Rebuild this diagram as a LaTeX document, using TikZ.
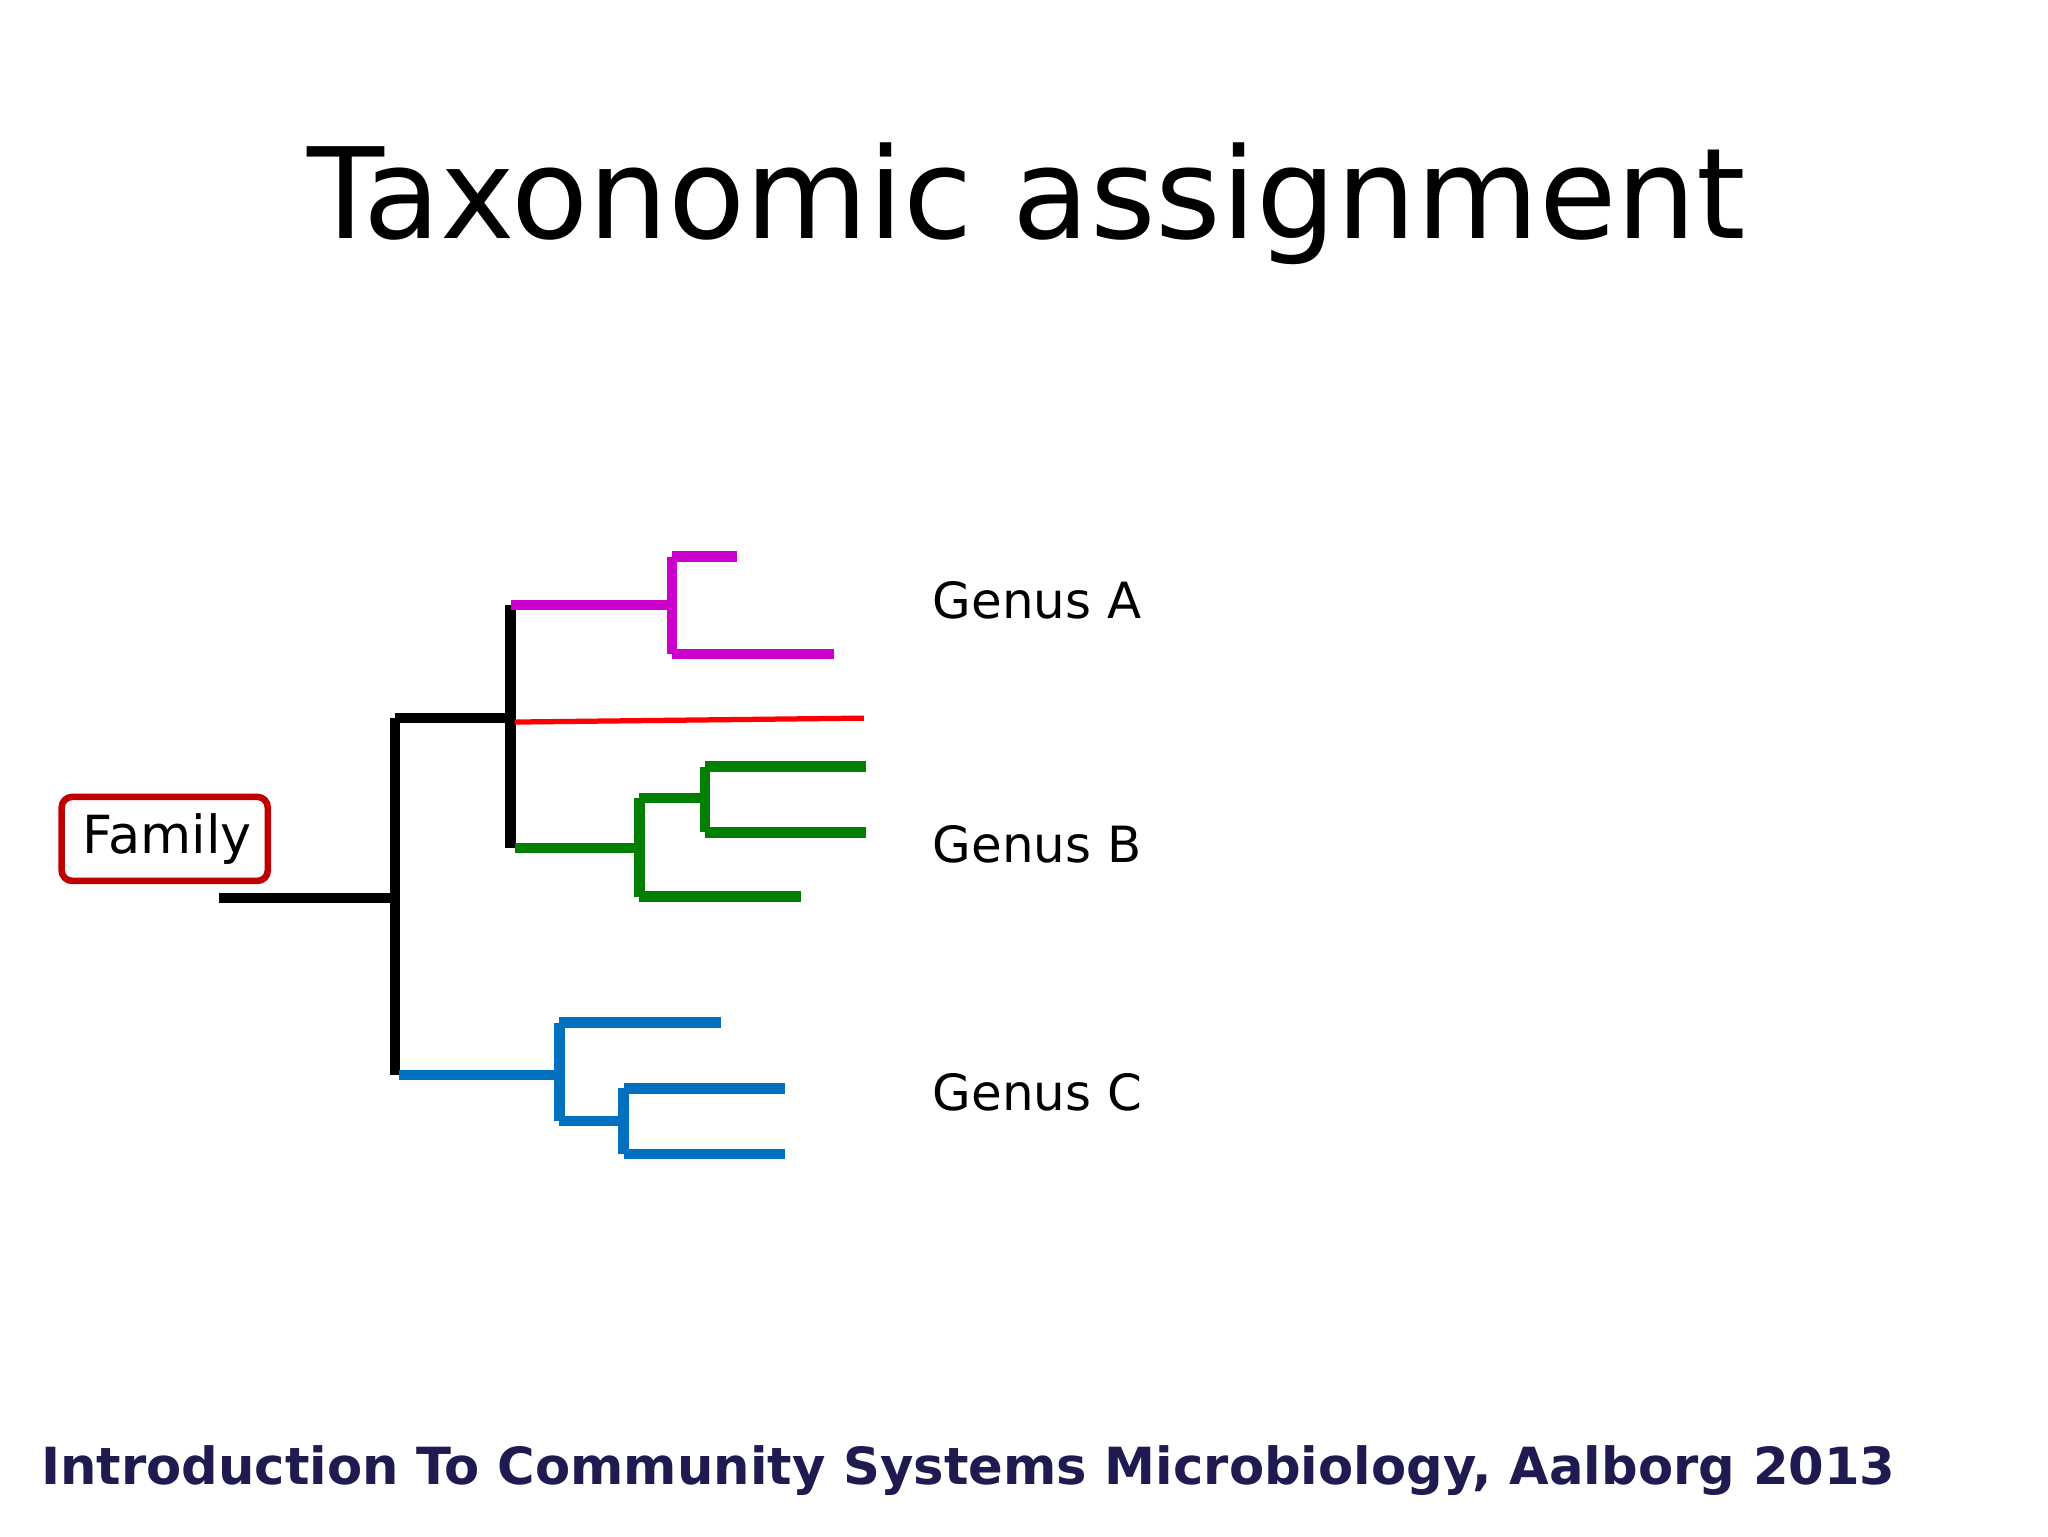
\documentclass[tikz,border=0pt]{standalone}
\usepackage{fontspec}
\setmainfont{DejaVu Sans}
\definecolor{mag}{HTML}{CC00CC}
\definecolor{grn}{HTML}{007F00}
\definecolor{blu}{HTML}{0070C0}
\definecolor{boxred}{HTML}{C00000}
\definecolor{navy}{HTML}{1F1A4F}
\begin{document}
\begin{tikzpicture}[x=1pt,y=-1pt,
  br/.style={line width=8pt},
  lbl/.style={anchor=west,font=\fontsize{38}{44}\selectfont}]
\useasboundingbox (0,3) rectangle (1560,1173);
\node at (782,158) {\fontsize{96}{110}\selectfont Taxonomic assignment};
\node[anchor=west,text=navy] at (28,1123) {\fontsize{39}{46}\selectfont\bfseries Introduction To Community Systems Microbiology, Aalborg 2013};
\node[draw=boxred,line width=5pt,rounded corners=8pt,minimum width=157pt,minimum height=64pt,font=\fontsize{40}{46}\selectfont] (fam) at (125.5,642) {\hspace*{4pt}Family};
\node[lbl] (ga) at (707,460) {Genus A};
\node[lbl] (gb) at (707,646) {Genus B};
\node[lbl] (gc) at (707,835) {Genus C};
% black
\draw[br] (167,687) -- (301,687);
\draw[br] (301,550) -- (301,822);
\draw[br] (301,550) -- (389,550);
\draw[br] (389,464) -- (389,649);
% magenta
\draw[br,mag] (389,464) -- (512,464);
\draw[br,mag] (512,427) -- (512,501);
\draw[br,mag] (512,427) -- (561,427);
\draw[br,mag] (512,501) -- (635,501);
% red
\draw[line width=4pt,red] (392,553) -- (658,550);
% green
\draw[br,grn] (392,649) -- (487,649);
\draw[br,grn] (487,611) -- (487,686);
\draw[br,grn] (487,611) -- (537,611);
\draw[br,grn] (537,587) -- (537,637);
\draw[br,grn] (537,587) -- (660,587);
\draw[br,grn] (537,637) -- (660,637);
\draw[br,grn] (487,686) -- (610,686);
% blue
\draw[br,blu] (304,822) -- (426,822);
\draw[br,blu] (426,782) -- (426,857);
\draw[br,blu] (426,782) -- (549,782);
\draw[br,blu] (426,857) -- (475,857);
\draw[br,blu] (475,832) -- (475,882);
\draw[br,blu] (475,832) -- (598,832);
\draw[br,blu] (475,882) -- (598,882);
\end{tikzpicture}
\end{document}
